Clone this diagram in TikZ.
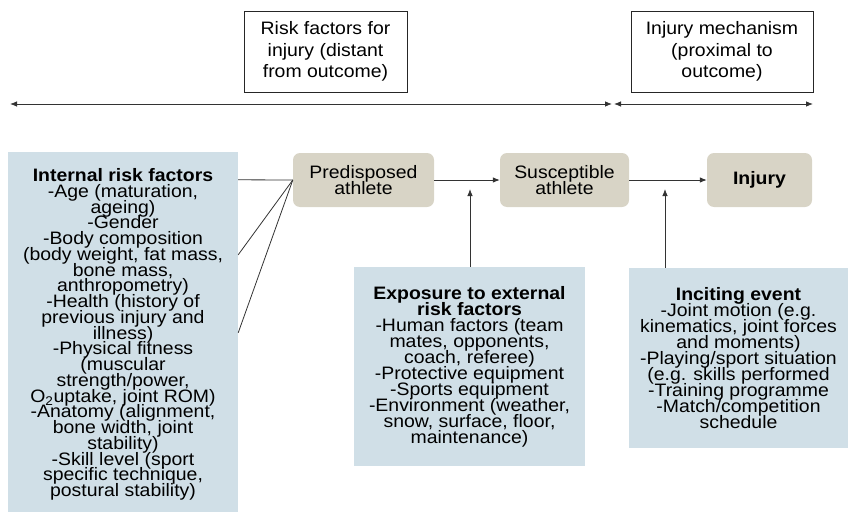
\documentclass[tikz,border=0pt]{standalone}
\usepackage{fontspec}
\setmainfont{Liberation Sans}[FakeStretch=1.08]
\usetikzlibrary{arrows.meta}
\setlength{\lineskiplimit}{-50pt}
\begin{document}
\begin{tikzpicture}[x=1pt, y=-1pt,
    every node/.style={font=\fontsize{18}{16}\selectfont, align=center, inner sep=0pt},
    labelbox/.style={draw=black!85, line width=0.7pt, fill=white, minimum width=#1, minimum height=81pt,
      font=\fontsize{18}{21.5}\selectfont},
    factorbox/.style={fill=factor, minimum width=#1},
    stagebox/.style={fill=stage, rounded corners=7pt, minimum height=54pt, minimum width=#1},
    link/.style={draw=black!80, line width=0.8pt},
    arr/.style={link, -{Latex[length=7pt,width=5.5pt]}},
    span/.style={link, {Latex[length=7pt,width=5.5pt]}-{Latex[length=7pt,width=5.5pt]}}]
        \definecolor{factor}{RGB}{208,223,231}
        \definecolor{stage}{RGB}{216,212,198}
        \useasboundingbox (0,0) rectangle (848,511);
        % time line at the top
        \node[labelbox=163pt] (risk) at (325.5,51.5) {Risk factors for\\injury (distant\\from outcome)};
        \node[labelbox=182pt] (mech) at (722,51.5) {Injury mechanism\\(proximal to\\outcome)};
        \coordinate (farleft) at (10,104);
        \coordinate (split) at (612,104);
        \coordinate (farright) at (813,104);
        \draw[span] (farleft) -- (split);
        \draw[span] ([xshift=2pt]split) -- (farright);
        % stages
        \node[stagebox=141pt] (pred) at (363.5,180) {Predisposed\\athlete};
        \node[stagebox=129pt] (susc) at (564.5,180) {Susceptible\\athlete};
        \node[stagebox=105pt] (injury) at (759.5,180) {\textbf{Injury}};
        % factors
        \node[factorbox=230pt, minimum height=365pt, font=\fontsize{18}{15.75}\selectfont]
          (internal) at (123,334.5) {\textbf{Internal risk factors}\\-Age (maturation,\\ageing)\\-Gender\\
          -Body composition\\(body weight, fat mass,\\bone mass,\\anthropometry)\\-Health (history of\\
          previous injury and\\illness)\\-Physical fitness\\(muscular\\strength/power,\\
          O\textsubscript{2}uptake, joint ROM)\\-Anatomy (alignment,\\bone width, joint\\stability)\\
          -Skill level (sport\\specific technique,\\postural stability)};
        \node[factorbox=231pt, minimum height=199pt] (exposure) at (469.5,366.5)
          {\textbf{Exposure to external}\\\textbf{risk factors}\\-Human factors (team\\mates, opponents,\\
          coach, referee)\\-Protective equipment\\-Sports equipment\\-Environment (weather,\\
          snow, surface, floor,\\maintenance)};
        \node[factorbox=219pt, minimum height=180pt] (inciting) at (738.5,358)
          {\textbf{Inciting event}\\-Joint motion (e.g.\\kinematics, joint forces\\and moments)\\
          -Playing/sport situation\\(e.g. skills performed\\-Training programme\\-Match/competition\\schedule};
        % connectors
        \foreach \dy in {28,103,181}
          \draw[link] (internal.north east) ++(0,\dy) -- (pred.west);
        \draw[arr] (pred) -- (susc);
        \draw[arr] (susc) -- (injury);
        \coordinate (exptip) at (470,189);
        \coordinate (inctip) at (665,189);
        \draw[arr] (exptip |- exposure.north) -- (exptip);
        \draw[arr] (inctip |- inciting.north) -- (inctip);
      \end{tikzpicture}
\end{document}
